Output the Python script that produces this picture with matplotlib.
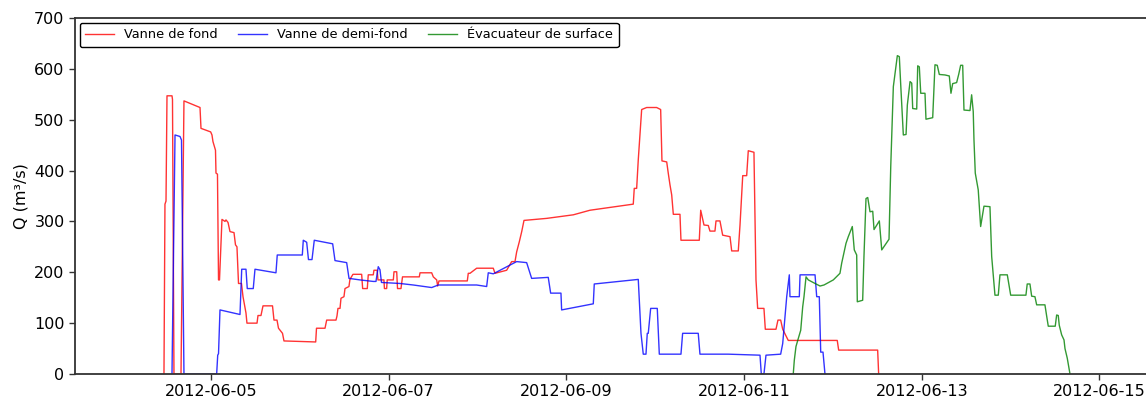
import matplotlib
matplotlib.use("Agg")
import matplotlib.pyplot as plt
import matplotlib.dates as mdates
import pandas as pd

# Vanne de fond (red)
fond_time = [
    "2012-06-04 11:18", "2012-06-04 11:34", "2012-06-04 11:51", "2012-06-04 12:07", "2012-06-04 12:39",
    "2012-06-04 13:28", "2012-06-04 13:36", "2012-06-04 14:00", "2012-06-04 15:54", "2012-06-04 16:42",
    "2012-06-04 21:02", "2012-06-04 21:18", "2012-06-04 23:55", "2012-06-05 00:16", "2012-06-05 00:32",
    "2012-06-05 01:13", "2012-06-05 01:21", "2012-06-05 01:45", "2012-06-05 02:02", "2012-06-05 02:18",
    "2012-06-05 02:58", "2012-06-05 03:47", "2012-06-05 04:03", "2012-06-05 04:36", "2012-06-05 05:08",
    "2012-06-05 06:13", "2012-06-05 06:37", "2012-06-05 07:01", "2012-06-05 07:26", "2012-06-05 08:14",
    "2012-06-05 08:39", "2012-06-05 09:27", "2012-06-05 09:43", "2012-06-05 12:26", "2012-06-05 12:42",
    "2012-06-05 13:30", "2012-06-05 14:03", "2012-06-05 16:37", "2012-06-05 17:01", "2012-06-05 17:50",
    "2012-06-05 18:14", "2012-06-05 19:19", "2012-06-05 19:43", "2012-06-06 04:17", "2012-06-06 04:30",
    "2012-06-06 06:48", "2012-06-06 07:15", "2012-06-06 09:46", "2012-06-06 10:02", "2012-06-06 10:18",
    "2012-06-06 10:51", "2012-06-06 11:07", "2012-06-06 11:55", "2012-06-06 12:12", "2012-06-06 13:16",
    "2012-06-06 13:32", "2012-06-06 14:21", "2012-06-06 16:42", "2012-06-06 16:58", "2012-06-06 18:13",
    "2012-06-06 18:29", "2012-06-06 19:50", "2012-06-06 20:01", "2012-06-06 20:54", "2012-06-06 21:06",
    "2012-06-06 22:43", "2012-06-06 22:51", "2012-06-06 23:27", "2012-06-06 23:36", "2012-06-07 01:15",
    "2012-06-07 01:26", "2012-06-07 02:10", "2012-06-07 02:23", "2012-06-07 03:19", "2012-06-07 03:44",
    "2012-06-07 08:16", "2012-06-07 08:28", "2012-06-07 11:37", "2012-06-07 12:03", "2012-06-07 12:58",
    "2012-06-07 13:14", "2012-06-07 13:35", "2012-06-07 21:14", "2012-06-07 21:30", "2012-06-07 21:58",
    "2012-06-07 23:46", "2012-06-08 04:15", "2012-06-08 04:43", "2012-06-08 07:52", "2012-06-08 09:13",
    "2012-06-08 10:07", "2012-06-08 10:34", "2012-06-08 11:17", "2012-06-08 11:56", "2012-06-08 12:33",
    "2012-06-08 18:41", "2012-06-09 01:52", "2012-06-09 06:22", "2012-06-09 18:04", "2012-06-09 18:20",
    "2012-06-09 18:59", "2012-06-09 19:25", "2012-06-09 19:53", "2012-06-09 20:20", "2012-06-09 21:41",
    "2012-06-10 00:23", "2012-06-10 01:28", "2012-06-10 01:49", "2012-06-10 03:06", "2012-06-10 03:31",
    "2012-06-10 03:59", "2012-06-10 04:27", "2012-06-10 04:53", "2012-06-10 06:41", "2012-06-10 06:57",
    "2012-06-10 11:54", "2012-06-10 12:17", "2012-06-10 13:10", "2012-06-10 14:20", "2012-06-10 14:47",
    "2012-06-10 16:08", "2012-06-10 16:25", "2012-06-10 17:29", "2012-06-10 18:13", "2012-06-10 20:12",
    "2012-06-10 20:39", "2012-06-10 22:26", "2012-06-10 22:54", "2012-06-10 23:38", "2012-06-11 00:42",
    "2012-06-11 01:08", "2012-06-11 02:40", "2012-06-11 03:13", "2012-06-11 03:40", "2012-06-11 05:22",
    "2012-06-11 05:44", "2012-06-11 08:37", "2012-06-11 09:09", "2012-06-11 09:53", "2012-06-11 10:26",
    "2012-06-11 11:56", "2012-06-12 01:10", "2012-06-12 01:33", "2012-06-12 12:05", "2012-06-12 12:21",
]
fond_q = [
    0, 334, 340, 547, 547,
    547, 540, 0, 0, 537,
    524, 483, 476, 470, 457,
    440, 395, 393, 185, 185,
    304, 300, 303, 298, 280,
    278, 254, 250, 178, 178,
    152, 120, 100, 100, 115,
    115, 134, 134, 106, 106,
    90, 80, 65, 63, 90,
    90, 106, 106, 114, 129,
    129, 149, 152, 168, 172,
    186, 196, 196, 168, 168,
    195, 195, 204, 204, 185,
    185, 168, 168, 185, 185,
    201, 201, 168, 168, 191,
    191, 199, 199, 191, 185,
    173, 183, 183, 198, 198,
    208, 208, 198, 204, 221,
    221, 240, 260, 280, 302,
    306, 313, 322, 334, 365,
    365, 421, 470, 520, 524,
    524, 520, 419, 417, 395,
    372, 352, 314, 314, 263,
    263, 322, 293, 292, 281,
    281, 301, 301, 273, 270,
    242, 242, 293, 390, 390,
    439, 436, 185, 129, 129,
    88, 88, 106, 106, 88,
    66, 66, 47, 47, 0,
]

# Vanne de demi-fond (blue)
demi_time = [
    "2012-06-04 13:28", "2012-06-04 14:17", "2012-06-04 15:38", "2012-06-04 16:02", "2012-06-04 16:42",
    "2012-06-05 01:32", "2012-06-05 01:49", "2012-06-05 02:02", "2012-06-05 02:26", "2012-06-05 07:50",
    "2012-06-05 08:18", "2012-06-05 09:27", "2012-06-05 09:48", "2012-06-05 11:25", "2012-06-05 11:53",
    "2012-06-05 17:33", "2012-06-05 17:54", "2012-06-06 00:40", "2012-06-06 00:56", "2012-06-06 01:51",
    "2012-06-06 02:20", "2012-06-06 03:17", "2012-06-06 03:54", "2012-06-06 08:52", "2012-06-06 09:30",
    "2012-06-06 12:39", "2012-06-06 13:17", "2012-06-06 16:15", "2012-06-06 19:50", "2012-06-06 20:34",
    "2012-06-06 21:11", "2012-06-06 21:39", "2012-06-06 22:03", "2012-06-07 03:03", "2012-06-07 06:39",
    "2012-06-07 11:37", "2012-06-07 13:24", "2012-06-07 23:46", "2012-06-08 02:28", "2012-06-08 02:54",
    "2012-06-08 04:15", "2012-06-08 10:34", "2012-06-08 13:16", "2012-06-08 14:37", "2012-06-08 19:06",
    "2012-06-08 19:45", "2012-06-08 22:32", "2012-06-08 22:43", "2012-06-09 07:16", "2012-06-09 07:32",
    "2012-06-09 19:25", "2012-06-09 20:09", "2012-06-09 20:46", "2012-06-09 21:30", "2012-06-09 21:51",
    "2012-06-09 22:07", "2012-06-09 22:46", "2012-06-10 00:33", "2012-06-10 01:06", "2012-06-10 06:57",
    "2012-06-10 07:24", "2012-06-10 11:37", "2012-06-10 12:05", "2012-06-10 19:43", "2012-06-11 04:18",
    "2012-06-11 04:39", "2012-06-11 05:22", "2012-06-11 05:55", "2012-06-11 09:53", "2012-06-11 10:26",
    "2012-06-11 11:31", "2012-06-11 12:13", "2012-06-11 12:24", "2012-06-11 14:55", "2012-06-11 15:07",
    "2012-06-11 19:10", "2012-06-11 19:37", "2012-06-11 20:19", "2012-06-11 20:42", "2012-06-11 21:19",
    "2012-06-11 21:51",
]
demi_q = [
    0, 470, 467, 460, 0,
    0, 37, 40, 126, 117,
    206, 206, 168, 168, 206,
    199, 234, 234, 263, 259,
    225, 225, 263, 256, 223,
    219, 188, 185, 182, 182,
    211, 205, 180, 178, 175,
    170, 175, 175, 172, 199,
    197, 221, 219, 188, 190,
    159, 159, 126, 138, 177,
    186, 80, 39, 39, 80,
    80, 129, 129, 39, 39,
    80, 80, 39, 39, 37,
    0, 0, 37, 39, 60,
    152, 195, 152, 152, 195,
    195, 152, 152, 43, 43,
    0,
]

# Évacuateur de surface (green)
surf_time = [
    "2012-06-11 13:17", "2012-06-11 13:34", "2012-06-11 14:01", "2012-06-11 14:39", "2012-06-11 15:18",
    "2012-06-11 15:50", "2012-06-11 16:11", "2012-06-11 16:44", "2012-06-11 17:21", "2012-06-11 19:10",
    "2012-06-11 20:31", "2012-06-11 21:35", "2012-06-12 00:06", "2012-06-12 01:54", "2012-06-12 02:22",
    "2012-06-12 03:32", "2012-06-12 04:09", "2012-06-12 05:14", "2012-06-12 05:46", "2012-06-12 06:25",
    "2012-06-12 06:35", "2012-06-12 08:02", "2012-06-12 08:23", "2012-06-12 08:56", "2012-06-12 09:24",
    "2012-06-12 10:01", "2012-06-12 10:45", "2012-06-12 11:06", "2012-06-12 12:32", "2012-06-12 13:11",
    "2012-06-12 15:09", "2012-06-12 15:37", "2012-06-12 16:19", "2012-06-12 17:24", "2012-06-12 17:56",
    "2012-06-12 18:19", "2012-06-12 19:01", "2012-06-12 19:45", "2012-06-12 20:06", "2012-06-12 20:50",
    "2012-06-12 21:17", "2012-06-12 21:33", "2012-06-12 22:38", "2012-06-12 22:54", "2012-06-12 23:20",
    "2012-06-12 23:43", "2012-06-13 00:52", "2012-06-13 01:08", "2012-06-13 02:57", "2012-06-13 03:34",
    "2012-06-13 04:11", "2012-06-13 04:44", "2012-06-13 06:16", "2012-06-13 07:26", "2012-06-13 07:53",
    "2012-06-13 08:21", "2012-06-13 09:25", "2012-06-13 09:58", "2012-06-13 10:30", "2012-06-13 11:03",
    "2012-06-13 11:24", "2012-06-13 13:01", "2012-06-13 13:28", "2012-06-13 13:54", "2012-06-13 14:06",
    "2012-06-13 14:27", "2012-06-13 15:15", "2012-06-13 15:54", "2012-06-13 16:48", "2012-06-13 18:25",
    "2012-06-13 18:53", "2012-06-13 19:46", "2012-06-13 20:40", "2012-06-13 21:07", "2012-06-13 23:06",
    "2012-06-14 00:01", "2012-06-14 04:08", "2012-06-14 04:29", "2012-06-14 05:13", "2012-06-14 05:41",
    "2012-06-14 06:34", "2012-06-14 07:02", "2012-06-14 09:16", "2012-06-14 09:44", "2012-06-14 10:10",
    "2012-06-14 12:03", "2012-06-14 12:26", "2012-06-14 12:52", "2012-06-14 13:08", "2012-06-14 13:47",
    "2012-06-14 14:25", "2012-06-14 14:41", "2012-06-14 15:18", "2012-06-14 16:02",
]
surf_q = [
    0, 27, 54, 70, 86,
    132, 152, 191, 185, 178,
    173, 175, 185, 198, 218,
    257, 270, 290, 244, 234,
    142, 145, 231, 345, 347,
    319, 320, 284, 301, 244,
    265, 408, 565, 626, 624,
    568, 470, 471, 529, 575,
    572, 522, 521, 606, 604,
    552, 552, 501, 504, 608,
    607, 589, 588, 586, 552,
    571, 573, 589, 607, 607,
    519, 518, 549, 516, 460,
    395, 362, 290, 330, 329,
    231, 155, 155, 195, 195,
    155, 155, 177, 177, 153,
    152, 136, 136, 114, 94,
    94, 116, 115, 96, 77,
    67, 50, 31, 0,
]

tick_dates = ["2012-06-05", "2012-06-07", "2012-06-09", "2012-06-11", "2012-06-13", "2012-06-15"]
x_start = "2012-06-03 11:16"
x_end = "2012-06-15 12:34"
y_ticks = [0, 100, 200, 300, 400, 500, 600, 700]

plt.rcParams["font.family"] = "DejaVu Sans"

fig = plt.figure(figsize=(11.46, 4.0), dpi=100)
ax = fig.add_axes([75 / 1146, 26 / 400, 1 - 75 / 1146, 356 / 400])

ax.plot(pd.to_datetime(fond_time), fond_q, color="#ff0000", lw=1.0, alpha=0.8, label="Vanne de fond")
ax.plot(pd.to_datetime(demi_time), demi_q, color="#0000ff", lw=1.0, alpha=0.8, label="Vanne de demi-fond")
ax.plot(pd.to_datetime(surf_time), surf_q, color="#008000", lw=1.0, alpha=0.8, label="Évacuateur de surface")

ax.set_xlim(pd.Timestamp(x_start), pd.Timestamp(x_end))
ax.set_ylim(0, 700)
ax.set_yticks(y_ticks)
ax.set_xticks(pd.to_datetime(tick_dates))
ax.xaxis.set_major_formatter(mdates.DateFormatter("%Y-%m-%d"))
ax.tick_params(labelsize=11.5, direction="out", length=4, width=1, color="#333333")
ax.set_ylabel("Q (m³/s)", fontsize=11.5)

ax.spines["right"].set_visible(False)
for side in ["left", "top", "bottom"]:
    ax.spines[side].set_color("#333333")
    ax.spines[side].set_linewidth(1.3)

leg = ax.legend(loc="upper left", ncol=3, fontsize=9.3, frameon=True, fancybox=True,
                borderaxespad=0.35, borderpad=0.45, columnspacing=1.6, handlelength=2.2)
leg.get_frame().set_edgecolor("black")
leg.get_frame().set_linewidth(1.0)
leg.get_frame().set_alpha(1.0)

fig.savefig("out.png", dpi=100)
